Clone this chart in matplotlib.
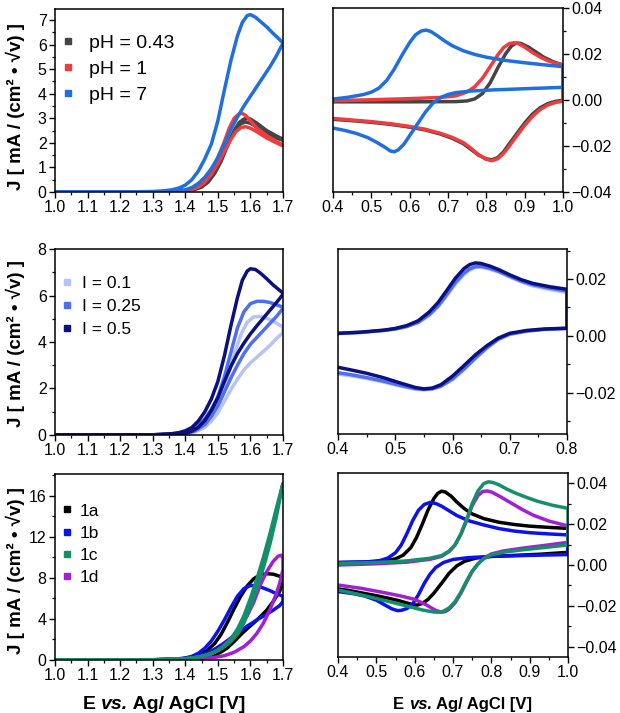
import matplotlib
matplotlib.use("Agg")
import matplotlib.pyplot as plt
from matplotlib.lines import Line2D
from matplotlib.text import Annotation
from matplotlib.ticker import MultipleLocator, FormatStrFormatter, FuncFormatter

plt.rcParams['font.family'] = ['Liberation Sans', 'DejaVu Sans']

# ================= Panel A: pH series, 1.0-1.7 V =================
ph_labels = ["pH = 0.43", "pH = 1", "pH = 7"]
ph_colors = ["#454545", "#f03c3c", "#1f6fe0"]
a_E_043 = [1.0, 1.3, 1.38, 1.42, 1.45, 1.47, 1.49, 1.51, 1.53, 1.55, 1.565, 1.58, 1.59, 1.60, 1.62, 1.65,
           1.68, 1.70,
           1.70, 1.68, 1.65, 1.62, 1.60, 1.585, 1.57, 1.555, 1.54, 1.52, 1.50, 1.48, 1.46, 1.44, 1.41,
           1.38, 1.3, 1.0]
a_J_043 = [0, 0, 0.01, 0.06, 0.2, 0.4, 0.75, 1.25, 1.9, 2.5, 2.82, 2.97, 3.0, 2.97, 2.8, 2.5,
           2.28, 2.15,
           2.1, 2.2, 2.4, 2.65, 2.8, 2.85, 2.78, 2.55, 2.2, 1.7, 1.15, 0.7, 0.38, 0.18, 0.05,
           0.01, 0, 0]
a_E_1 = [1.0, 1.3, 1.38, 1.41, 1.44, 1.46, 1.48, 1.50, 1.52, 1.535, 1.55, 1.565, 1.575, 1.585, 1.60,
         1.62, 1.65, 1.68, 1.70,
         1.70, 1.68, 1.65, 1.62, 1.60, 1.585, 1.57, 1.555, 1.54, 1.52, 1.50, 1.48, 1.46, 1.44, 1.41,
         1.38, 1.3, 1.0]
a_J_1 = [0, 0, 0.02, 0.07, 0.22, 0.45, 0.85, 1.4, 2.05, 2.6, 3.0, 3.18, 3.2, 3.12, 2.9,
         2.6, 2.3, 2.05, 1.92,
         1.88, 2.0, 2.2, 2.45, 2.6, 2.66, 2.62, 2.45, 2.15, 1.65, 1.15, 0.72, 0.4, 0.2, 0.07,
         0.02, 0, 0]
a_E_7 = [1.0, 1.2, 1.30, 1.33, 1.36, 1.38, 1.40, 1.42, 1.44, 1.46, 1.48, 1.50, 1.52, 1.54, 1.56,
         1.575, 1.59, 1.60, 1.615, 1.63, 1.65, 1.67, 1.69, 1.70,
         1.70, 1.68, 1.66, 1.64, 1.62, 1.60, 1.58, 1.56, 1.54, 1.52, 1.50, 1.48, 1.46, 1.44, 1.42,
         1.40, 1.37, 1.33, 1.2, 1.0]
a_J_7 = [0, 0, 0.02, 0.04, 0.09, 0.16, 0.28, 0.5, 0.85, 1.35, 1.95, 2.9, 4.15, 5.35, 6.35,
         6.9, 7.18, 7.22, 7.12, 6.95, 6.72, 6.45, 6.2, 6.06,
         6.06, 5.55, 5.1, 4.7, 4.3, 3.9, 3.5, 3.05, 2.55, 1.95, 1.4, 0.95, 0.6, 0.35, 0.18,
         0.09, 0.04, 0.015, 0, 0]

# ================= Panel B: pH series, 0.4-1.0 V =================
b_E_043 = [0.40, 0.60, 0.72, 0.75, 0.77, 0.79, 0.81, 0.83, 0.85, 0.865, 0.878, 0.89, 0.91, 0.93, 0.95,
           0.975, 1.00,
           1.00, 0.98, 0.96, 0.94, 0.92, 0.90, 0.88, 0.86, 0.845, 0.83, 0.815, 0.80, 0.78, 0.76, 0.74,
           0.71, 0.68, 0.64, 0.60, 0.55, 0.50, 0.45, 0.40]
b_J_043 = [-0.0008, -0.0008, -0.0007, -0.0004, 0.0005, 0.0028, 0.0075, 0.014, 0.020, 0.0234, 0.0248,
           0.0246, 0.023, 0.0208, 0.0186, 0.0166, 0.0152,
           -0.0001, -0.0006, -0.0016, -0.0034, -0.0062, -0.010, -0.0145, -0.019, -0.0225, -0.025,
           -0.026, -0.0256, -0.024, -0.0215, -0.019, -0.0166, -0.0148, -0.013, -0.0118, -0.0106,
           -0.0097, -0.009, -0.0084]
b_E_1 = [0.40, 0.50, 0.60, 0.68, 0.72, 0.75, 0.77, 0.79, 0.81, 0.83, 0.845, 0.86, 0.872, 0.885, 0.90,
         0.92, 0.94, 0.96, 0.98, 1.00,
         1.00, 0.98, 0.96, 0.94, 0.92, 0.90, 0.88, 0.86, 0.845, 0.83, 0.815, 0.80, 0.78, 0.76, 0.74,
         0.71, 0.68, 0.64, 0.60, 0.55, 0.50, 0.45, 0.40]
b_J_1 = [-0.0003, 0.0001, 0.0006, 0.0011, 0.0018, 0.0035, 0.0058, 0.0095, 0.0145, 0.0196, 0.0228,
         0.0245, 0.0249, 0.0244, 0.023, 0.0207, 0.0187, 0.0171, 0.016, 0.0152,
         -0.0005, -0.0011, -0.0022, -0.0042, -0.0072, -0.011, -0.0155, -0.020, -0.0232, -0.0255,
         -0.0264, -0.0258, -0.0238, -0.021, -0.0185, -0.0162, -0.0145, -0.0127, -0.0115, -0.0103,
         -0.0094, -0.0087, -0.008]
b_E_7 = [0.40, 0.44, 0.48, 0.50, 0.52, 0.54, 0.56, 0.58, 0.60, 0.615, 0.63, 0.642, 0.655, 0.67, 0.69,
         0.71, 0.74, 0.77, 0.80, 0.85, 0.90, 0.95, 1.00,
         1.00, 0.90, 0.82, 0.76, 0.72, 0.70, 0.68, 0.66, 0.64, 0.62, 0.60, 0.585, 0.57, 0.56, 0.55,
         0.535, 0.515, 0.49, 0.46, 0.43, 0.40]
b_J_7 = [0.0004, 0.0012, 0.0024, 0.0034, 0.0052, 0.0085, 0.0135, 0.0195, 0.025, 0.0283, 0.030, 0.0304,
         0.0298, 0.0282, 0.0258, 0.0237, 0.0214, 0.0198, 0.0186, 0.0172, 0.0162, 0.0153, 0.0145,
         0.0055, 0.0049, 0.0044, 0.0039, 0.0032, 0.0024, 0.001, -0.0015, -0.0055, -0.0105, -0.0155,
         -0.0192, -0.0217, -0.0225, -0.0222, -0.0205, -0.0185, -0.0163, -0.0145, -0.0132, -0.0122]

# ================= Panel C: ionic strength, 1.0-1.7 V =================
i_labels = ["I = 0.1", "I = 0.25", "I = 0.5"]
i_colors = ["#b6c3f8", "#4f6ff0", "#0a1080"]
c_E_01 = [1.0, 1.30, 1.37, 1.41, 1.44, 1.47, 1.49, 1.51, 1.53, 1.55, 1.57, 1.59, 1.61, 1.63, 1.65,
          1.67, 1.69, 1.70,
          1.70, 1.68, 1.66, 1.64, 1.62, 1.60, 1.58, 1.56, 1.54, 1.52, 1.50, 1.48, 1.46, 1.43, 1.40,
          1.3, 1.0]
c_J_01 = [0, 0.01, 0.04, 0.13, 0.33, 0.7, 1.1, 1.7, 2.5, 3.45, 4.3, 4.85, 5.08, 5.1, 5.02,
          4.9, 4.72, 4.65,
          4.4, 4.15, 3.85, 3.6, 3.35, 3.1, 2.8, 2.4, 1.95, 1.45, 0.95, 0.6, 0.33, 0.13, 0.04,
          0.01, 0]
c_E_025 = [1.0, 1.30, 1.36, 1.40, 1.43, 1.46, 1.48, 1.50, 1.52, 1.54, 1.56, 1.58, 1.60, 1.62, 1.64,
           1.66, 1.68, 1.70,
           1.70, 1.68, 1.66, 1.64, 1.62, 1.60, 1.58, 1.56, 1.54, 1.52, 1.50, 1.48, 1.46, 1.43, 1.40,
           1.36, 1.3, 1.0]
c_J_025 = [0, 0.01, 0.04, 0.13, 0.33, 0.7, 1.1, 1.65, 2.5, 3.55, 4.6, 5.3, 5.65, 5.75, 5.75,
           5.7, 5.6, 5.5,
           5.45, 5.1, 4.8, 4.5, 4.2, 3.9, 3.5, 3.0, 2.45, 1.85, 1.25, 0.8, 0.45, 0.18, 0.06,
           0.02, 0.01, 0]
c_E_05 = [1.0, 1.30, 1.35, 1.38, 1.40, 1.42, 1.44, 1.46, 1.48, 1.50, 1.52, 1.54, 1.56, 1.575, 1.59,
          1.60, 1.615, 1.63, 1.65, 1.67, 1.69, 1.70,
          1.70, 1.68, 1.65, 1.62, 1.60, 1.58, 1.56, 1.54, 1.52, 1.50, 1.48, 1.46, 1.44, 1.42, 1.40,
          1.37, 1.3, 1.0]
c_J_05 = [0, 0.01, 0.04, 0.1, 0.18, 0.32, 0.6, 1.0, 1.55, 2.3, 3.4, 4.7, 5.9, 6.65, 7.05,
          7.15, 7.12, 6.97, 6.72, 6.45, 6.22, 6.1,
          6.05, 5.7, 5.2, 4.7, 4.35, 3.95, 3.5, 2.95, 2.3, 1.6, 1.05, 0.62, 0.33, 0.16, 0.07,
          0.03, 0.01, 0]

# ================= Panel D: ionic strength, 0.4-0.8 V =================
d_E = [0.40, 0.44, 0.48, 0.50, 0.52, 0.54, 0.56, 0.575, 0.59, 0.605, 0.62, 0.63, 0.64, 0.65, 0.665,
       0.68, 0.70, 0.72, 0.74, 0.77, 0.80,
       0.80, 0.76, 0.73, 0.70, 0.68, 0.66, 0.64, 0.62, 0.60, 0.58, 0.565, 0.55, 0.535, 0.51, 0.48,
       0.45, 0.42, 0.40]
d_J_05 = [0.0009, 0.0013, 0.002, 0.0026, 0.0036, 0.0053, 0.0085, 0.0118, 0.016, 0.0203, 0.0237,
          0.0251, 0.0257, 0.0255, 0.0246, 0.0234, 0.0215, 0.0198, 0.0185, 0.0173, 0.0164,
          0.0027, 0.0024, 0.0019, 0.0009, -0.0008, -0.0035, -0.0067, -0.0105, -0.0142, -0.0172,
          -0.0184, -0.0187, -0.0182, -0.0167, -0.0148, -0.0132, -0.0119, -0.0111]
d_J_025 = [0.0008, 0.0012, 0.0019, 0.0024, 0.0033, 0.0048, 0.0076, 0.0106, 0.0146, 0.0188, 0.0221,
           0.0236, 0.0244, 0.0245, 0.0238, 0.0228, 0.021, 0.0193, 0.018, 0.0168, 0.0158,
           0.0026, 0.0023, 0.0017, 0.0006, -0.0012, -0.0042, -0.0078, -0.0117, -0.0152, -0.0177,
           -0.0186, -0.0189, -0.0186, -0.0175, -0.016, -0.0147, -0.0136, -0.013]
d_J_01 = [0.0008, 0.0012, 0.0019, 0.0024, 0.0032, 0.0046, 0.0073, 0.0102, 0.0141, 0.0183, 0.0216,
          0.0232, 0.0241, 0.0242, 0.0235, 0.0225, 0.0207, 0.019, 0.0176, 0.0163, 0.0153,
          0.0025, 0.0022, 0.0016, 0.0005, -0.0013, -0.0044, -0.008, -0.0119, -0.0154, -0.0179,
          -0.0188, -0.019, -0.0188, -0.0178, -0.0163, -0.015, -0.014, -0.0135]

# ================= Panel E: compounds 1a-1d, 1.0-1.7 V =================
cmp_labels = ["1a", "1b", "1c", "1d"]
cmp_colors = ["#000000", "#0c12ee", "#13906a", "#a21fd6"]
e_E_1a = [1.0, 1.30, 1.38, 1.42, 1.45, 1.47, 1.49, 1.51, 1.53, 1.55, 1.57, 1.59, 1.61, 1.63, 1.65,
          1.67, 1.69, 1.70,
          1.70, 1.69, 1.67, 1.65, 1.63, 1.61, 1.59, 1.57, 1.55, 1.53, 1.51, 1.49, 1.46, 1.43, 1.40,
          1.3, 1.0]
e_J_1a = [0, 0.02, 0.08, 0.25, 0.6, 1.0, 1.6, 2.5, 3.7, 5.0, 6.2, 7.2, 7.9, 8.3, 8.4,
          8.35, 8.15, 7.9,
          7.5, 6.7, 5.7, 4.85, 4.2, 3.6, 3.05, 2.45, 1.8, 1.2, 0.78, 0.48, 0.25, 0.12, 0.06,
          0.02, 0]
e_E_1b = [1.0, 1.30, 1.37, 1.40, 1.42, 1.44, 1.46, 1.48, 1.50, 1.52, 1.54, 1.56, 1.58, 1.60, 1.62,
          1.64, 1.66, 1.68, 1.70,
          1.70, 1.69, 1.67, 1.65, 1.63, 1.61, 1.59, 1.57, 1.55, 1.53, 1.51, 1.49, 1.47, 1.45, 1.43,
          1.40, 1.36, 1.3, 1.0]
e_J_1b = [0, 0.02, 0.08, 0.2, 0.35, 0.65, 1.15, 1.85, 2.8, 3.9, 5.1, 6.2, 6.95, 7.25, 7.2,
          7.0, 6.75, 6.45, 6.2,
          5.7, 5.3, 4.85, 4.45, 4.1, 3.7, 3.3, 2.85, 2.4, 1.9, 1.45, 1.05, 0.72, 0.47, 0.3,
          0.13, 0.05, 0.02, 0]
e_E_1c = [1.0, 1.30, 1.38, 1.42, 1.45, 1.48, 1.50, 1.52, 1.54, 1.56, 1.58, 1.60, 1.62, 1.64, 1.66,
          1.68, 1.70,
          1.70, 1.68, 1.66, 1.64, 1.62, 1.60, 1.58, 1.56, 1.54, 1.52, 1.50, 1.48, 1.45, 1.42, 1.38,
          1.3, 1.0]
e_J_1c = [0, 0.03, 0.08, 0.18, 0.35, 0.6, 0.9, 1.3, 1.8, 2.5, 3.6, 5.2, 7.0, 9.0, 11.3,
          14.0, 17.2,
          17.2, 14.8, 12.3, 10.0, 7.9, 6.0, 4.3, 3.0, 2.05, 1.4, 0.95, 0.62, 0.35, 0.18, 0.08,
          0.03, 0]
e_E_1d = [1.0, 1.30, 1.40, 1.45, 1.49, 1.52, 1.55, 1.58, 1.60, 1.62, 1.64, 1.66, 1.68, 1.69, 1.70,
          1.70, 1.695, 1.685, 1.67, 1.65, 1.63, 1.61, 1.59, 1.57, 1.55, 1.53, 1.51, 1.49, 1.46, 1.43,
          1.40, 1.3, 1.0]
e_J_1d = [0, 0.02, 0.06, 0.13, 0.25, 0.42, 0.75, 1.3, 1.85, 2.6, 3.6, 4.9, 6.5, 7.5, 8.8,
          9.9, 10.2, 10.1, 9.6, 8.6, 7.3, 5.6, 4.3, 3.3, 2.45, 1.75, 1.2, 0.8, 0.42, 0.2,
          0.1, 0.02, 0]

# ================= Panel F: compounds 1a-1d, 0.4-1.0 V =================
f_E_1a = [0.40, 0.48, 0.52, 0.55, 0.57, 0.59, 0.605, 0.62, 0.635, 0.65, 0.66, 0.67, 0.68, 0.695, 0.71,
          0.73, 0.75, 0.78, 0.82, 0.86, 0.90, 0.95, 1.00,
          1.00, 0.93, 0.86, 0.80, 0.76, 0.73, 0.71, 0.69, 0.67, 0.65, 0.635, 0.62, 0.607, 0.595, 0.58,
          0.56, 0.53, 0.50, 0.46, 0.43, 0.40]
f_J_1a = [0.0011, 0.0014, 0.0019, 0.003, 0.0048, 0.0085, 0.0135, 0.020, 0.027, 0.0325, 0.035, 0.0361,
          0.0357, 0.0337, 0.0308, 0.0275, 0.025, 0.0227, 0.0209, 0.0198, 0.019, 0.0184, 0.0179,
          0.0062, 0.0053, 0.0047, 0.0042, 0.0034, 0.0018, -0.0004, -0.004, -0.009, -0.0138, -0.0168,
          -0.0188, -0.0196, -0.0194, -0.0186, -0.0175, -0.0162, -0.015, -0.0136, -0.0125, -0.0117]
f_E_1b = [0.40, 0.48, 0.51, 0.53, 0.55, 0.565, 0.58, 0.595, 0.61, 0.625, 0.64, 0.655, 0.67, 0.69, 0.71,
          0.74, 0.78, 0.82, 0.86, 0.90, 0.95, 1.00,
          1.00, 0.90, 0.80, 0.74, 0.70, 0.675, 0.655, 0.64, 0.625, 0.61, 0.595, 0.58, 0.565, 0.555,
          0.54, 0.52, 0.50, 0.47, 0.44, 0.40]
f_J_1b = [0.0013, 0.0016, 0.0022, 0.0034, 0.006, 0.0098, 0.0155, 0.0218, 0.0268, 0.0296, 0.0306,
          0.0301, 0.0288, 0.0265, 0.0242, 0.0217, 0.0196, 0.0178, 0.0166, 0.0158, 0.0152, 0.0147,
          0.0051, 0.0047, 0.0042, 0.0036, 0.0027, 0.0012, -0.0012, -0.0045, -0.009, -0.0145, -0.019,
          -0.0213, -0.0222, -0.0223, -0.0214, -0.0193, -0.0172, -0.0152, -0.014, -0.013]
f_E_1c = [0.40, 0.50, 0.58, 0.64, 0.67, 0.69, 0.705, 0.72, 0.735, 0.75, 0.765, 0.78, 0.792, 0.805, 0.82,
          0.84, 0.86, 0.89, 0.92, 0.96, 1.00,
          1.00, 0.94, 0.88, 0.83, 0.80, 0.78, 0.765, 0.75, 0.735, 0.72, 0.705, 0.69, 0.675, 0.665,
          0.65, 0.62, 0.58, 0.54, 0.50, 0.45, 0.40]
f_J_1c = [0.0008, 0.0012, 0.002, 0.0033, 0.0046, 0.0068, 0.0098, 0.015, 0.022, 0.030, 0.0362, 0.0398,
          0.0407, 0.0403, 0.0392, 0.0372, 0.0354, 0.0332, 0.0312, 0.0292, 0.0277,
          0.0098, 0.0086, 0.0074, 0.0062, 0.005, 0.003, 0.0005, -0.003, -0.008, -0.0135, -0.018,
          -0.021, -0.0226, -0.0231, -0.023, -0.022, -0.0201, -0.0182, -0.0164, -0.0142, -0.0122]
f_E_1d = [0.40, 0.50, 0.58, 0.64, 0.67, 0.69, 0.705, 0.72, 0.735, 0.75, 0.765, 0.778, 0.79, 0.80, 0.82,
          0.85, 0.88, 0.91, 0.95, 1.00,
          1.00, 0.94, 0.88, 0.83, 0.80, 0.78, 0.765, 0.75, 0.735, 0.72, 0.705, 0.69, 0.68, 0.67,
          0.655, 0.63, 0.60, 0.56, 0.52, 0.46, 0.40]
f_J_1d = [0.0, 0.0006, 0.0014, 0.0028, 0.0042, 0.0066, 0.0097, 0.0148, 0.0215, 0.029, 0.034, 0.036,
          0.0362, 0.0357, 0.0338, 0.0305, 0.0272, 0.0243, 0.0215, 0.0191,
          0.0111, 0.0096, 0.0082, 0.0068, 0.0054, 0.0033, 0.0005, -0.0032, -0.0085, -0.014, -0.0186,
          -0.0216, -0.0228, -0.0231, -0.0222, -0.0195, -0.0168, -0.015, -0.0135, -0.0114, -0.0098]

# ================= figure =================
W, H = 620, 713
fig = plt.figure(figsize=(W / 100, H / 100), dpi=100)


def px_axes(l, r, t, b):
    return fig.add_axes([l / W, 1 - b / H, (r - l) / W, (b - t) / H])


axA = px_axes(55, 283, 9, 192)
axB = px_axes(333, 563, 8, 192)
axC = px_axes(55, 283, 249, 435)
axD = px_axes(338, 567, 249, 434)
axE = px_axes(55, 283, 474, 660)
axF = px_axes(338, 568, 473, 657)

LW = 2.5
kw = dict(lw=LW, solid_joinstyle='round', solid_capstyle='round')
for E, J, c in zip([a_E_043, a_E_1, a_E_7], [a_J_043, a_J_1, a_J_7], ph_colors):
    axA.plot(E, J, color=c, **kw)
for E, J, c in zip([b_E_043, b_E_1, b_E_7], [b_J_043, b_J_1, b_J_7], ph_colors):
    axB.plot(E, J, color=c, **kw)
for E, J, c in zip([c_E_01, c_E_025, c_E_05], [c_J_01, c_J_025, c_J_05], i_colors):
    axC.plot(E, J, color=c, **kw)
for J, c in zip([d_J_01, d_J_025, d_J_05], i_colors):
    axD.plot(d_E, J, color=c, **kw)
order = [0, 1, 3, 2]
e_sets = [(e_E_1a, e_J_1a), (e_E_1b, e_J_1b), (e_E_1c, e_J_1c), (e_E_1d, e_J_1d)]
f_sets = [(f_E_1a, f_J_1a), (f_E_1b, f_J_1b), (f_E_1c, f_J_1c), (f_E_1d, f_J_1d)]
for k in order:
    axE.plot(*e_sets[k], color=cmp_colors[k], **kw)
    axF.plot(*f_sets[k], color=cmp_colors[k], **kw)

TICK_FS = 11.5


def style(ax, xlim, ylim, xmaj, xmin, ymaj, ymin, right=False):
    ax.set_xlim(*xlim)
    ax.set_ylim(*ylim)
    ax.xaxis.set_major_locator(MultipleLocator(xmaj))
    ax.xaxis.set_minor_locator(MultipleLocator(xmin))
    ax.yaxis.set_major_locator(MultipleLocator(ymaj))
    ax.yaxis.set_minor_locator(MultipleLocator(ymin))
    ax.xaxis.set_major_formatter(FormatStrFormatter('%.1f'))
    if right:
        ax.yaxis.set_major_formatter(FuncFormatter(
            lambda v, p: ('\u2212' if v < -1e-9 else '') + '%.2f' % abs(v)))
    else:
        ax.yaxis.set_major_formatter(FormatStrFormatter('%d'))
    for s in ax.spines.values():
        s.set_linewidth(1.1)
    ax.tick_params(which='major', direction='out', length=4, width=1.0, labelsize=TICK_FS, pad=2)
    ax.tick_params(which='minor', direction='out', length=2.5, width=0.9)
    ax.tick_params(top=False, which='both')
    if right:
        ax.yaxis.tick_right()
        ax.tick_params(axis='y', which='both', left=False, right=True)
    else:
        ax.tick_params(axis='y', which='both', right=False)


style(axA, (1.0, 1.7), (0, 7.45), 0.1, 0.05, 1, 0.5)
style(axB, (0.4, 1.0), (-0.04, 0.04), 0.1, 0.05, 0.02, 0.01, right=True)
style(axC, (1.0, 1.7), (0, 8.0), 0.1, 0.05, 2, 1)
style(axD, (0.4, 0.8), (-0.0346, 0.0306), 0.1, 0.05, 0.02, 0.01, right=True)
style(axE, (1.0, 1.7), (0, 18.1), 0.1, 0.05, 4, 2)
style(axF, (0.4, 1.0), (-0.045, 0.045), 0.1, 0.05, 0.02, 0.01, right=True)


def add_legend(ax, labels, colors, fs, left, top, hl, htp, ls, ms):
    handles = [Line2D([], [], ls='none', marker='s', ms=ms, color=c, mec=c) for c in colors]
    ax.legend(handles, labels, loc='upper left', bbox_to_anchor=(left, top), frameon=False,
              fontsize=fs, handlelength=hl, handletextpad=htp, labelspacing=ls,
              borderpad=0, borderaxespad=0)


add_legend(axA, ph_labels, ph_colors, 14, 0.0145, 0.863, 1.0, 0.58, 0.44, 4.2)
add_legend(axC, i_labels, i_colors, 12.5, 0.022, 0.853, 0.8, 0.47, 0.44, 4.0)
add_legend(axE, cmp_labels, cmp_colors, 12.5, 0.022, 0.842, 0.8, 0.35, 0.40, 4.0)

ylab = 'J [ mA / (cm\u00b2 \u2022 \u221av) ]'
for yc in (107, 344, 571):
    fig.text(15 / W, 1 - yc / H, ylab, rotation=90, ha='center', va='center',
             fontsize=13.5, fontweight='bold')


def xlabel(x_px, y_px, fs):
    t1 = fig.text(x_px / W, 1 - y_px / H, 'E ', fontsize=fs, fontweight='bold', va='bottom', ha='left')
    a2 = fig.add_artist(Annotation('vs.', xy=(1, 0), xycoords=t1, va='bottom', ha='left',
                                   fontsize=fs, fontweight='bold', fontstyle='italic'))
    fig.add_artist(Annotation(' Ag/ AgCl [V]', xy=(1, 0), xycoords=a2, va='bottom', ha='left',
                              fontsize=fs, fontweight='bold'))


xlabel(83, 713, 14)
xlabel(393, 712, 12)

fig.savefig('out.png', dpi=100)
